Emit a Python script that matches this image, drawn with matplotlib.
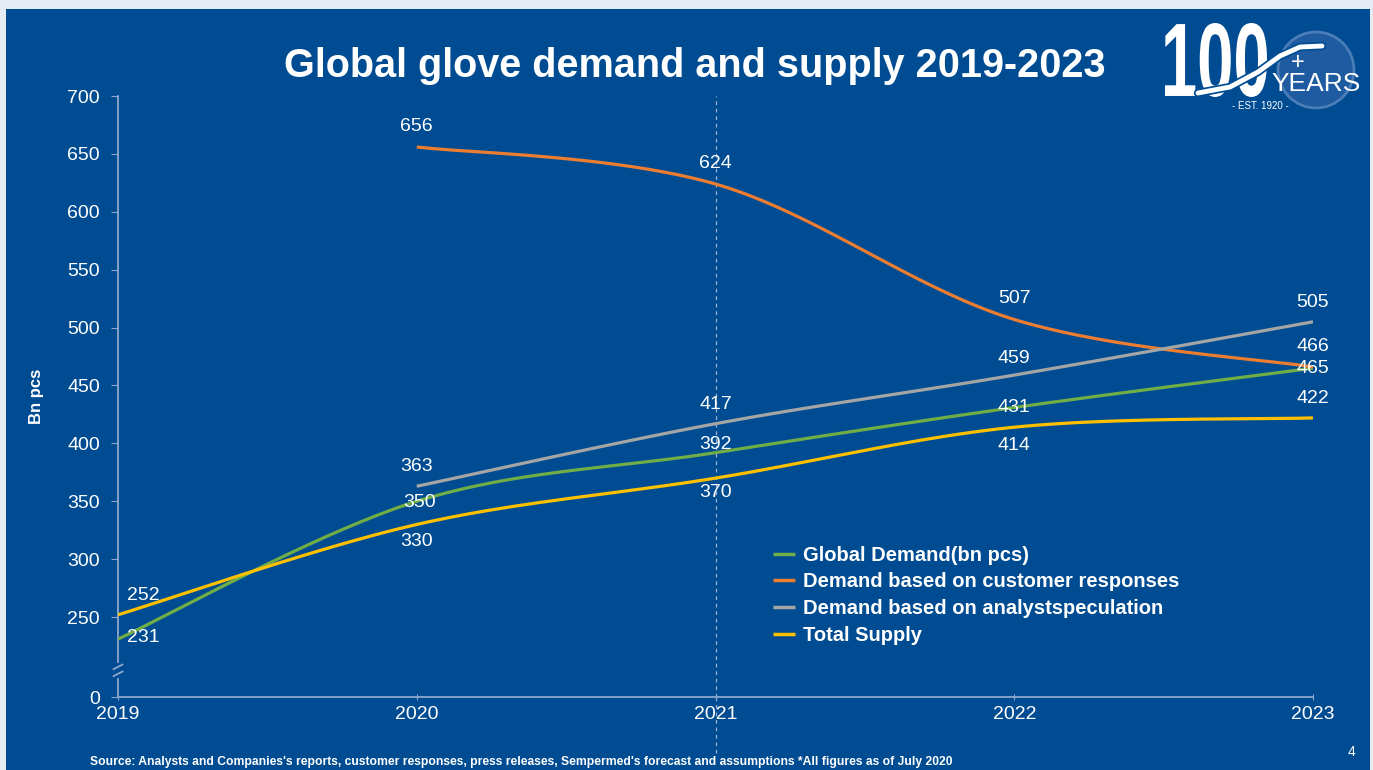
import numpy as np
import matplotlib.pyplot as plt
from matplotlib.patches import Rectangle, Ellipse, PathPatch
from matplotlib.textpath import TextPath
from matplotlib.font_manager import FontProperties
from matplotlib.transforms import Affine2D
from matplotlib.lines import Line2D

# Data (bn pcs)
years = [2019, 2020, 2021, 2022, 2023]
global_demand = [231, 350, 392, 431, 465]
cust_years = [2020, 2021, 2022, 2023]
cust_demand = [656, 624, 507, 466]
analyst_years = [2020, 2021, 2022, 2023]
analyst_demand = [363, 417, 459, 505]
total_supply = [252, 330, 370, 414, 422]

y_ticks = [250, 300, 350, 400, 450, 500, 550, 600, 650, 700]
zero_pos = 181  # where "0" sits below the axis break
break_pos = 204

BG = '#004C93'
AX = '#8EA6CC'
plt.rcParams['font.family'] = ['Liberation Sans', 'DejaVu Sans']


def smooth(x, y, n=40):
    # Catmull-Rom style smoothing like Excel's smoothed lines
    x = np.asarray(x, float)
    y = np.asarray(y, float)
    px = np.concatenate([[x[0]], x, [x[-1]]])
    py = np.concatenate([[y[0]], y, [y[-1]]])
    xs, ys = [], []
    for i in range(1, len(px) - 2):
        p0, p1, p2, p3 = [np.array([px[j], py[j]]) for j in (i - 1, i, i + 1, i + 2)]
        c1 = p1 + (p2 - p0) / 6
        c2 = p2 - (p3 - p1) / 6
        t = np.linspace(0, 1, n)[:, None]
        b = (1 - t) ** 3 * p1 + 3 * (1 - t) ** 2 * t * c1 + 3 * (1 - t) * t ** 2 * c2 + t ** 3 * p2
        xs.append(b[:, 0])
        ys.append(b[:, 1])
    return np.concatenate(xs), np.concatenate(ys)


fig = plt.figure(figsize=(13.73, 7.70), dpi=100)
fig.patch.set_facecolor('#E6ECF3')
fig.patches.append(Rectangle((6 / 1373, 0), 1364 / 1373, 761 / 770, transform=fig.transFigure,
                             facecolor=BG, edgecolor='none', zorder=-10))

ax = fig.add_axes([118 / 1373, 1 - 697 / 770, 1195 / 1373, 601 / 770])
ax.set_facecolor('none')

series = [
    (years, global_demand, '#70AD47', 'Global Demand(bn pcs)'),
    (cust_years, cust_demand, '#ED7D31', 'Demand based on customer responses'),
    (analyst_years, analyst_demand, '#A5A5A5', 'Demand based on analystspeculation'),
    (years, total_supply, '#FFC000', 'Total Supply'),
]
for xv, yv, col, lab in series:
    sx, sy = smooth(xv, yv)
    ax.plot(sx, sy, color=col, lw=2.3, label=lab, solid_capstyle='butt', zorder=3)

# vertical dashed marker at 2021
ax.axvline(2021, ymin=0, ymax=1, color='#9DB0CF', lw=0.9, ls=(0, (3, 3)), zorder=1)
ax.plot([2021, 2021], [zero_pos, zero_pos - 48], color='#9DB0CF', lw=0.9, ls=(0, (3, 3)),
        clip_on=False, zorder=1)

# data labels (offsets in points)
lab_kw = dict(color='white', fontsize=14, textcoords='offset points', ha='center', va='center', zorder=5)
offsets = {
    'g': [(18, 1), (2, -1), (0, 6), (0, 0), (0, 0)],
    'o': [(0, 15), (0, 15), (0, 15), (0, 15)],
    'a': [(0, 14), (0, 14), (0, 12), (0, 14)],
    's': [(18, 14), (0, -12), (0, -10), (0, -13), (0, 14)],
}
for xv, yv, key in [(years, global_demand, 'g'), (cust_years, cust_demand, 'o'),
                    (analyst_years, analyst_demand, 'a'), (years, total_supply, 's')]:
    for x, y, off in zip(xv, yv, offsets[key]):
        ax.annotate(str(y), (x, y), xytext=off, **lab_kw)

ax.set_xlim(2019, 2023)
ax.set_ylim(zero_pos, 700)
ax.set_xticks(years)
ax.set_xticklabels([str(y) for y in years])
ax.set_yticks([zero_pos] + y_ticks)
ax.set_yticklabels(['0'] + [str(t) for t in y_ticks])

for s in ['top', 'right']:
    ax.spines[s].set_visible(False)
for s in ['left', 'bottom']:
    ax.spines[s].set_color(AX)
    ax.spines[s].set_linewidth(1.3)
ax.tick_params(axis='y', colors=AX, labelcolor='white', labelsize=14, length=5, pad=8)
ax.tick_params(axis='x', colors=AX, labelcolor='white', labelsize=14, length=5, direction='inout', pad=4)

# axis break marks
ax.plot([2019, 2019], [break_pos - 5, break_pos + 5], color=BG, lw=3, clip_on=False, zorder=3)
for dy in (-3, 3):
    ax.plot([2018.985, 2019.015], [break_pos + dy - 2, break_pos + dy + 2], color=AX, lw=1.3,
            clip_on=False, zorder=4)

ax.set_ylabel('Bn pcs', color='white', fontsize=12, fontweight='bold')
ax.yaxis.set_label_coords(-0.062, 0.5)

leg = ax.legend(loc='upper left', bbox_to_anchor=(0.533, 0.282), frameon=False, handlelength=1.1,
                handletextpad=0.4, labelspacing=0.38, prop={'size': 14.5, 'weight': 'bold'})
for t in leg.get_texts():
    t.set_color('white')
for h in leg.get_lines():
    h.set_linewidth(2.5)

fig.text(695 / 1373, 1 - 66 / 770, 'Global glove demand and supply 2019-2023', color='white',
         fontsize=28.5, fontweight='bold', ha='center', va='center')

fig.text(90 / 1373, 1 - 762 / 770,
         "Source: Analysts and Companies's reports, customer responses, press releases, Sempermed's forecast and assumptions *All figures as of July 2020",
         color='white', fontsize=8.7, fontweight='bold', ha='left', va='center')
fig.text(1351 / 1373, 1 - 752 / 770, '4', color='white', fontsize=10, ha='center', va='center')

# logo approximation (pixel coordinates)
fig.patches.append(Ellipse((1316 / 1373, 1 - 70 / 770), 76 / 1373, 76 / 770, transform=fig.transFigure,
                           facecolor='#1F5BA0', edgecolor='#4A7DB8', lw=2, zorder=-5))
tp = TextPath((0, 0), '100', size=1, prop=FontProperties(family='Liberation Sans', weight='bold'))
ext = tp.get_extents()
tr = Affine2D().translate(-ext.x0, -ext.y0).scale(102 / ext.width, 74 / ext.height).translate(1165, 770 - 97)
fig.add_artist(PathPatch(tp, transform=tr, facecolor='white', edgecolor='none', zorder=1))
swx = [1198, 1230, 1258, 1280, 1300, 1322]
swy = [770 - 93, 770 - 87, 770 - 72, 770 - 56, 770 - 47, 770 - 46]
fig.add_artist(Line2D(swx, swy, color=BG, lw=6, transform=Affine2D(), solid_capstyle='round', zorder=2))
fig.add_artist(Line2D(swx, swy, color='white', lw=3.5, transform=Affine2D(), solid_capstyle='round', zorder=3))
fig.text(1298 / 1373, 1 - 63 / 770, '+', color='white', fontsize=17, ha='center', va='center', zorder=4)
fig.text(1316 / 1373, 1 - 84 / 770, 'YEARS', color='white', fontsize=19, ha='center', va='center', zorder=4)
fig.text(1260 / 1373, 1 - 106 / 770, '- EST. 1920 -', color='white', fontsize=7, ha='center', va='center')

fig.savefig('out.png', dpi=100, facecolor=fig.get_facecolor())
